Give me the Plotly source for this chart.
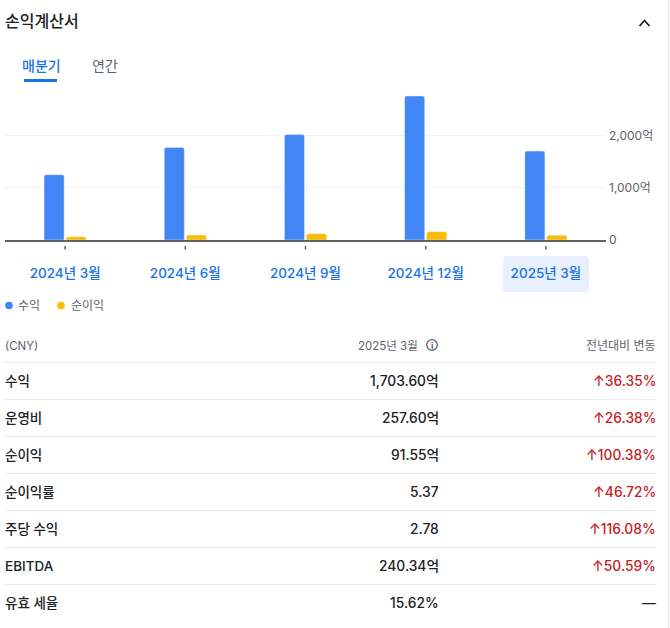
import plotly.graph_objects as go

WIDTH = 670
HEIGHT = 628
PLOT_LEFT = 5
PLOT_RIGHT = 606
PLOT_TOP = 90
PLOT_BOTTOM = 240

BLUE = '#4285f4'
YELLOW = '#fbbc04'
LINK = '#1a73e8'
DARK = '#202124'
GREY = '#5f6368'
RED = '#c5221f'
DIVIDER = '#e8eaed'
FONT = 'Inter, "Noto Sans CJK KR", sans-serif'

categories = ['2024년 3월', '2024년 6월', '2024년 9월', '2024년 12월', '2025년 3월']
revenue = [1250, 1772, 2020, 2758, 1703.6]
net_income = [60, 95, 120, 160, 91.55]
y_ticks = [0, 1000, 2000]
y_tick_labels = ['0', '1,000억', '2,000억']

row_labels = ['수익', '운영비', '순이익', '순이익률', '주당 수익', 'EBITDA', '유효 세율']
row_values = ['1,703.60억', '257.60억', '91.55억', '5.37', '2.78', '240.34억', '15.62%']
row_changes = ['↑36.35%', '↑26.38%', '↑100.38%', '↑46.72%', '↑116.08%', '↑50.59%', '—']


def paperX(x):
    return (x - PLOT_LEFT) / (PLOT_RIGHT - PLOT_LEFT)


def paperY(y):
    return (PLOT_BOTTOM - y) / (PLOT_BOTTOM - PLOT_TOP)


def addText(fig, x, y, text, size=14, color=DARK, anchor='left', weight=400):
    fig.add_annotation(x=paperX(x), y=paperY(y), xref='paper', yref='paper', text=text,
                       showarrow=False, xanchor=anchor, yanchor='middle',
                       xshift=0, yshift=0, borderpad=0, borderwidth=0,
                       font=dict(family=FONT, size=size, color=color, weight=weight))


def addLine(fig, x0, y0, x1, y1, color=DIVIDER, width=1):
    fig.add_shape(type='line', xref='paper', yref='paper',
                  x0=paperX(x0), y0=paperY(y0), x1=paperX(x1), y1=paperY(y1),
                  line=dict(color=color, width=width))


def addCircle(fig, cx, cy, r, fill=None, line=None):
    fig.add_shape(type='circle', xref='paper', yref='paper',
                  x0=paperX(cx - r), y0=paperY(cy - r), x1=paperX(cx + r), y1=paperY(cy + r),
                  fillcolor=fill if fill else 'rgba(0,0,0,0)',
                  line=dict(color=line if line else 'rgba(0,0,0,0)', width=1.3 if line else 0))


def addRoundedBox(fig, x0, y0, x1, y1, r, color):
    pts = [('M', x0 + r, y0), ('L', x1 - r, y0), ('Q', x1, y0, x1, y0 + r), ('L', x1, y1 - r),
           ('Q', x1, y1, x1 - r, y1), ('L', x0 + r, y1), ('Q', x0, y1, x0, y1 - r),
           ('L', x0, y0 + r), ('Q', x0, y0, x0 + r, y0)]
    path = ''
    for p in pts:
        coords = p[1:]
        parts = []
        for i in range(0, len(coords), 2):
            parts.append('%f,%f' % (paperX(coords[i]), paperY(coords[i + 1])))
        path += p[0] + ' '.join(parts) + ' '
    fig.add_shape(type='path', xref='paper', yref='paper', path=path + 'Z',
                  fillcolor=color, line=dict(width=0), layer='below')


def createFigure():
    fig = go.Figure()
    fig.add_trace(go.Bar(x=categories, y=revenue, name='수익', marker_color=BLUE, hoverinfo='skip'))
    fig.add_trace(go.Bar(x=categories, y=net_income, name='순이익', marker_color=YELLOW, hoverinfo='skip'))

    fig.update_layout(
        width=WIDTH, height=HEIGHT, showlegend=False, barmode='group',
        bargap=0.633, bargroupgap=0.09, barcornerradius=2,
        paper_bgcolor='white', plot_bgcolor='white',
        margin=dict(l=PLOT_LEFT, r=WIDTH - PLOT_RIGHT, t=PLOT_TOP, b=HEIGHT - PLOT_BOTTOM, autoexpand=False),
        font=dict(family=FONT),
    )
    fig.update_xaxes(showline=True, linecolor=GREY, linewidth=1.5, showgrid=False, ticks='',
                     ticklabelstandoff=20, tickfont=dict(family=FONT, size=13.5, color=LINK, weight=500),
                     fixedrange=True)
    fig.update_yaxes(side='right', range=[0, 2874], tickvals=y_ticks, ticktext=y_tick_labels,
                     showgrid=True, gridcolor='#f1f3f4', gridwidth=1, zeroline=False, ticks='',
                     ticklabelstandoff=2, tickfont=dict(family=FONT, size=12, color=GREY),
                     fixedrange=True)

    # tick marks sit a little below the axis line
    for cat in categories:
        fig.add_shape(type='line', xref='x', yref='paper', x0=cat, x1=cat,
                      y0=paperY(246), y1=paperY(249.5), line=dict(color=GREY, width=1.5))

    addRoundedBox(fig, 503, 256, 589, 292, 4, '#e8f0fe')

    addText(fig, 5, 21, '손익계산서', size=16, weight=500)
    fig.add_shape(type='path', xref='paper', yref='paper',
                  path='M%f,%f L%f,%f L%f,%f' % (paperX(639.5), paperY(26), paperX(644.5), paperY(20.5),
                                                 paperX(649.5), paperY(26)),
                  line=dict(color=DARK, width=1.8))

    addText(fig, 22, 65.5, '매분기', color=LINK, weight=500)
    addText(fig, 92, 65.5, '연간', color=GREY, weight=400)
    addLine(fig, 24, 80.5, 57, 80.5, color=LINK, width=3)

    addCircle(fig, 9, 305.5, 3.8, fill=BLUE)
    addText(fig, 18, 305.5, '수익', size=12, color=GREY)
    addCircle(fig, 61, 305.5, 3.8, fill=YELLOW)
    addText(fig, 71, 305.5, '순이익', size=12, color=GREY)

    addText(fig, 5, 345.5, '(CNY)', size=11.5, color=GREY, weight=400)
    addText(fig, 418, 345.5, '2025년 3월', size=11.5, color=GREY, anchor='right', weight=400)
    addCircle(fig, 432, 345, 5.3, line=GREY)
    addText(fig, 432, 345, 'i', size=9, color=GREY, anchor='center', weight=700)
    addText(fig, 656, 345, '전년대비 변동', size=12, color=GREY, anchor='right', weight=400)

    for i, label in enumerate(row_labels):
        rowY = 381 + 37 * i
        addLine(fig, 5, rowY - 18.5, 656, rowY - 18.5)
        addText(fig, 5, rowY, label, size=13.5, weight=500)
        addText(fig, 439, rowY, row_values[i], size=13.8, anchor='right', weight=500)
        change = row_changes[i]
        addText(fig, 656, rowY, change, size=13.8, anchor='right', weight=500,
                color=RED if change.startswith('↑') else DARK)

    addLine(fig, 668.5, 0, 668.5, HEIGHT, color='#eeeeee')
    return fig


def main():
    fig = createFigure()
    fig.write_html("out.html", config=dict(displayModeBar=False),
                   post_script="document.body.style.margin='0';")


if __name__ == "__main__":
    main()
